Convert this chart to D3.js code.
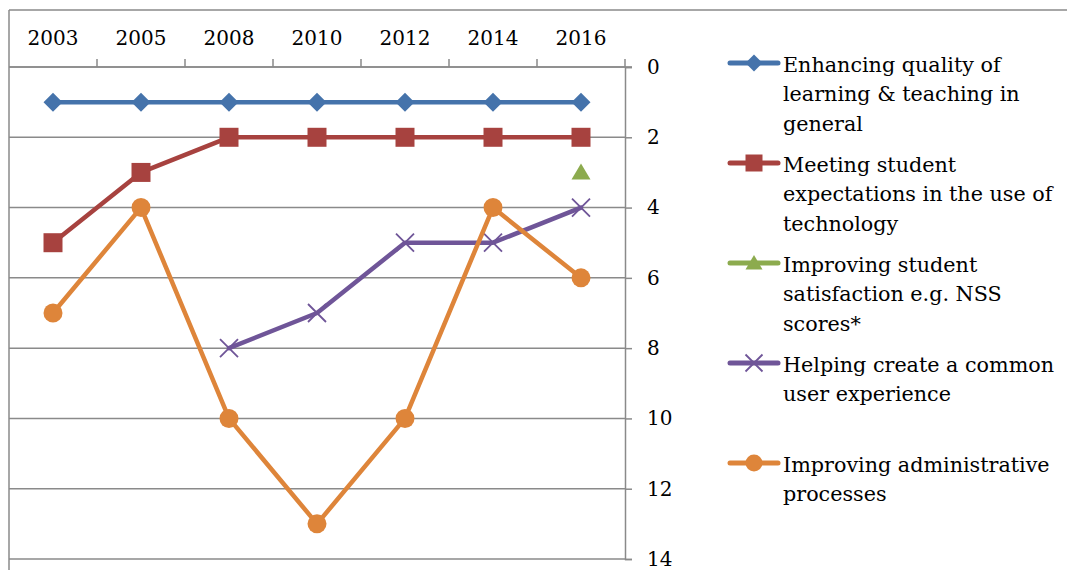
<!DOCTYPE html>
<html>
<head>
<meta charset="utf-8">
<script src="https://cdn.jsdelivr.net/npm/d3@7"></script>
<style>
  html, body { margin: 0; padding: 0; background: #fff; }
  svg { display: block; }
</style>
</head>
<body>
<svg id="chart" width="1067" height="570"></svg>
<script>
// ---- data ----
const years = ["2003", "2005", "2008", "2010", "2012", "2014", "2016"];
const yTicks = [0, 2, 4, 6, 8, 10, 12, 14];
const enhancingQuality = [1, 1, 1, 1, 1, 1, 1];
const meetingExpectations = [5, 3, 2, 2, 2, 2, 2];
const studentSatisfaction = [null, null, null, null, null, null, 3];
const commonExperience = [null, null, 8, 7, 5, 5, 4];
const adminProcesses = [7, 4, 10, 13, 10, 4, 6];
const seriesNames = [
  ["Enhancing quality of", "learning & teaching in", "general"],
  ["Meeting student", "expectations in the use of", "technology"],
  ["Improving student", "satisfaction e.g. NSS", "scores*"],
  ["Helping create a common", "user experience"],
  ["Improving administrative", "processes"]
];

// ---- styling ----
const colors = ["#4573AB", "#A7423F", "#8CAB4E", "#6F5598", "#DE853A"];
const markerKinds = ["diamond", "square", "triangle", "cross", "circle"];
const seriesValues = [enhancingQuality, meetingExpectations, studentSatisfaction, commonExperience, adminProcesses];
const FONT = "DejaVu Serif";

const svg = d3.select("#chart");
const plot = { left: 9, right: 625, top: 67, bottom: 559 };
const gray = "#8a8a8a";
const tickFont = 20;
const legendFont = 20.7;

const x = d3.scaleBand().domain(years).range([plot.left, plot.right]).padding(0);
const xc = d => x(d) + x.bandwidth() / 2;
const y = d3.scaleLinear().domain([0, 14]).range([plot.top, plot.bottom]);

// custom symbol types
const sym = {
  diamond: { draw(ctx, size) { const r = Math.sqrt(size) / 2; ctx.moveTo(0, -r); ctx.lineTo(r, 0); ctx.lineTo(0, r); ctx.lineTo(-r, 0); ctx.closePath(); } },
  square: { draw(ctx, size) { const r = Math.sqrt(size) / 2; ctx.rect(-r, -r, 2 * r, 2 * r); } },
  triangle: { draw(ctx, size) { const r = Math.sqrt(size) / 2; ctx.moveTo(0, -r * 0.95); ctx.lineTo(r, r * 0.75); ctx.lineTo(-r, r * 0.75); ctx.closePath(); } },
  cross: { draw(ctx, size) { const r = Math.sqrt(size) / 2; ctx.moveTo(-r, -r); ctx.lineTo(r, r); ctx.moveTo(r, -r); ctx.lineTo(-r, r); } },
  circle: { draw(ctx, size) { const r = Math.sqrt(size) / 2; ctx.moveTo(r, 0); ctx.arc(0, 0, r, 0, 2 * Math.PI); } }
};
function drawMarker(g, kind, color, cx, cy, s) {
  const path = d3.symbol().type(sym[kind]).size(s * s)();
  const p = g.append("path").attr("d", path).attr("transform", `translate(${cx},${cy})`);
  if (kind === "cross") {
    p.attr("fill", "none").attr("stroke", color).attr("stroke-width", 1.8);
  } else {
    p.attr("fill", color).attr("stroke", "none");
  }
}

// ---- outer borders ----
svg.append("line").attr("x1", plot.left).attr("x2", 1067).attr("y1", 10).attr("y2", 10)
  .attr("stroke", gray).attr("stroke-width", 1.5);
svg.append("line").attr("x1", plot.left).attr("x2", plot.left).attr("y1", 10).attr("y2", 570)
  .attr("stroke", gray).attr("stroke-width", 1.5);

// ---- gridlines ----
svg.append("g").selectAll("line").data(yTicks).join("line")
  .attr("x1", plot.left).attr("x2", plot.right)
  .attr("y1", d => y(d)).attr("y2", d => y(d))
  .attr("stroke", gray).attr("stroke-width", 1.5);

// ---- right value axis ----
const yAxis = d3.axisRight(y).tickValues(yTicks).tickSize(7).tickPadding(15).tickFormat(d3.format("d"));
const ya = svg.append("g").attr("transform", `translate(${plot.right},0)`).call(yAxis);
ya.attr("font-family", null).attr("font-size", null);
ya.select(".domain").attr("stroke", gray).attr("stroke-width", 1.5);
ya.selectAll(".tick line").attr("stroke", gray).attr("stroke-width", 1.5);
ya.selectAll(".tick text").style("font-size", tickFont + "px")
  .style("font-family", FONT).attr("fill", "#000");

// ---- top category axis ----
const xa = svg.append("g");
xa.append("line").attr("x1", plot.left).attr("x2", plot.right + 7).attr("y1", plot.top).attr("y2", plot.top)
  .attr("stroke", gray).attr("stroke-width", 1.5);
xa.selectAll("line.tk").data(years.slice(1).concat(["end"])).join("line").attr("class", "tk")
  .attr("x1", d => d === "end" ? plot.right : x(d)).attr("x2", d => d === "end" ? plot.right : x(d))
  .attr("y1", plot.top).attr("y2", plot.top - 8)
  .attr("stroke", gray).attr("stroke-width", 1.5);
xa.selectAll("text").data(years).join("text")
  .attr("x", d => xc(d)).attr("y", 45)
  .attr("text-anchor", "middle")
  .style("font-size", tickFont + "px").style("font-family", FONT).attr("fill", "#000")
  .text(d => d);

// ---- series ----
const line = d3.line().defined(d => d.v !== null).x(d => xc(d.c)).y(d => y(d.v));
seriesValues.forEach((vals, i) => {
  const data = years.map((c, j) => ({ c, v: vals[j] }));
  const g = svg.append("g");
  g.append("path").datum(data).attr("d", line)
    .attr("fill", "none").attr("stroke", colors[i]).attr("stroke-width", 4.5)
    .attr("stroke-linejoin", "round").attr("stroke-linecap", "round");
  data.filter(d => d.v !== null).forEach(d => {
    drawMarker(g, markerKinds[i], colors[i], xc(d.c), y(d.v), markerKinds[i] === "cross" ? 18 : 19);
  });
});

// ---- legend ----
const legend = svg.append("g");
seriesNames.forEach((lines, i) => {
  const cy = 63 + i * 100;
  legend.append("line").attr("x1", 730).attr("x2", 778).attr("y1", cy).attr("y2", cy)
    .attr("stroke", colors[i]).attr("stroke-width", 5).attr("stroke-linecap", "round");
  drawMarker(legend, markerKinds[i], colors[i], 754, cy, 17);
  const t = legend.append("text").attr("x", 783).attr("y", cy + 8.5)
    .style("font-size", legendFont + "px").style("font-family", FONT).attr("fill", "#000");
  lines.forEach((ln, k) => {
    t.append("tspan").attr("x", 783).attr("y", cy + 8.5 + k * 29.5).text(ln);
  });
});
</script>
</body>
</html>
